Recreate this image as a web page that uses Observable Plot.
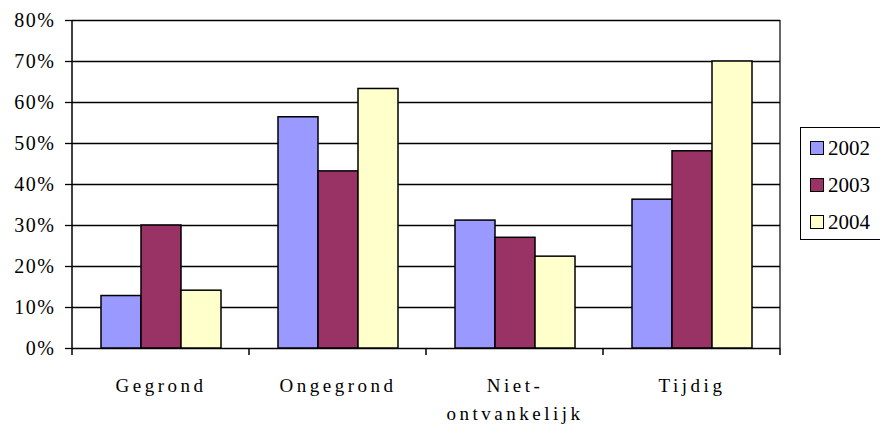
<!DOCTYPE html>
<html>
<head>
<meta charset="utf-8">
<script src="https://cdn.jsdelivr.net/npm/d3@7"></script>
<script src="https://cdn.jsdelivr.net/npm/@observablehq/plot@0.6"></script>
<style>
  html, body { margin: 0; padding: 0; background: #fff; overflow: hidden; }
  #wrap { position: relative; width: 880px; height: 427px; }
  #legend {
    position: absolute; left: 800px; top: 127px; width: 84px; height: 113px;
    border: 1.5px solid #000; box-sizing: border-box; background: #fff;
    font-family: 'Liberation Serif', 'Times New Roman', serif; font-size: 21px; color: #000;
  }
  .item { position: absolute; left: 9px; height: 22px; line-height: 22px; display: flex; align-items: center; }
  .sw { width: 14px; height: 14px; border: 1px solid #000; box-sizing: border-box; margin-right: 4px; }
</style>
</head>
<body>
<div id="wrap"></div>
<script>
const categories = ["Gegrond", "Ongegrond", "Niet-ontvankelijk", "Tijdig"];
const categoryLabels = ["Gegrond", "Ongegrond", "Niet-\nontvankelijk", "Tijdig"];
const years = ["2002", "2003", "2004"];
const values2002 = [0.128, 0.564, 0.312, 0.363];
const values2003 = [0.300, 0.432, 0.270, 0.481];
const values2004 = [0.141, 0.633, 0.224, 0.700];
const colors = ["#9999FF", "#993366", "#FFFFCC"];
const yTicks = [0, 0.1, 0.2, 0.3, 0.4, 0.5, 0.6, 0.7, 0.8];

const series = [values2002, values2003, values2004];
const data = [];
categories.forEach((c, i) => years.forEach((y, j) => data.push({category: c, year: y, value: series[j][i]})));
const labels = categories.map((c, i) => ({category: c, label: categoryLabels[i]}));

const chart = Plot.plot({
  width: 880,
  height: 427,
  marginLeft: 70,
  marginRight: 99,
  marginTop: 20,
  marginBottom: 79,
  style: {fontFamily: "'Liberation Serif', 'Times New Roman', serif", fontSize: "20px", background: "#fff", color: "#000", overflow: "visible"},
  fx: {domain: categories, padding: 0, axis: null},
  x: {domain: years, paddingInner: 0, paddingOuter: 0.7, axis: null},
  y: {domain: [0, 0.8], label: null},
  color: {domain: years, range: colors},
  marks: [
    Plot.ruleY(yTicks, {stroke: "#000", strokeWidth: 1.3}),
    Plot.barY(data, {fx: "category", x: "year", y: "value", fill: "year", stroke: "#000", strokeWidth: 1.5, inset: 0}),
    Plot.axisY({ticks: yTicks, tickFormat: d3.format(".0%"), label: null, tickSize: 7, tickPadding: 10, strokeWidth: 1.3, fontSize: 20}),
    Plot.text(labels, {fx: "category", text: "label", frameAnchor: "bottom", lineAnchor: "top", dy: 24, lineHeight: 1.45, fontSize: 19, fill: "#000"})
  ]
});

// letter spacing as in the reference
d3.select(chart).selectAll('g[aria-label="y-axis tick label"] text').attr("letter-spacing", "1.5px");
d3.select(chart).selectAll('g[aria-label="text"] text').attr("letter-spacing", "3.5px");

// frame lines and category boundary ticks, positioned with the chart's own scales
const fx = chart.scale("fx");
const ys = chart.scale("y");
const y0 = ys.apply(0), yTop = ys.apply(0.8);
const bounds = categories.map(c => fx.apply(c));
bounds.push(fx.apply(categories[categories.length - 1]) + fx.bandwidth);
const g = d3.select(chart).append("g").attr("stroke", "#000").attr("stroke-width", 1.5);
g.append("line").attr("x1", bounds[0]).attr("x2", bounds[0]).attr("y1", yTop).attr("y2", y0);
g.append("line").attr("x1", bounds[bounds.length - 1]).attr("x2", bounds[bounds.length - 1]).attr("y1", yTop).attr("y2", y0).attr("stroke-width", 1.2);
bounds.forEach(b => g.append("line").attr("x1", b).attr("x2", b).attr("y1", y0).attr("y2", y0 + 7));

const wrap = document.getElementById("wrap");
wrap.appendChild(chart);

// legend
const legend = document.createElement("div");
legend.id = "legend";
years.forEach((y, i) => {
  const it = document.createElement("div");
  it.className = "item";
  it.style.top = (9 + i * 37) + "px";
  const sw = document.createElement("span");
  sw.className = "sw";
  sw.style.background = colors[i];
  const t = document.createElement("span");
  t.textContent = y;
  it.appendChild(sw); it.appendChild(t);
  legend.appendChild(it);
});
wrap.appendChild(legend);
</script>
</body>
</html>
